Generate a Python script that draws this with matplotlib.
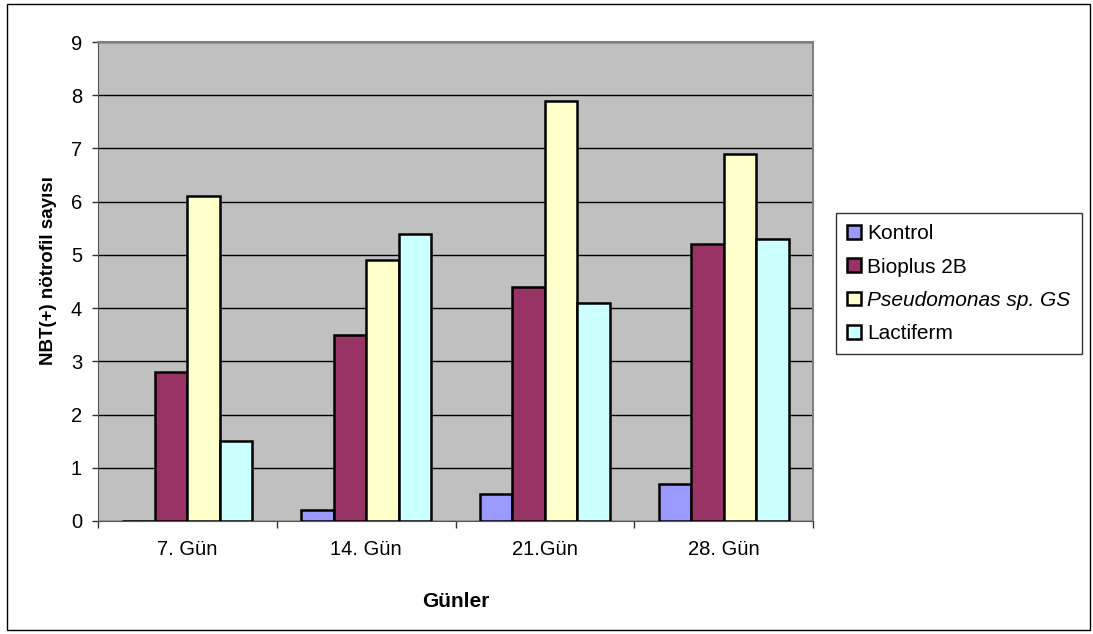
import numpy as np
import matplotlib
matplotlib.use("Agg")
import matplotlib.pyplot as plt
from matplotlib.patches import Rectangle

plt.rcParams['font.family'] = ['Liberation Sans', 'DejaVu Sans']

# data
days = ["7. Gün", "14. Gün", "21.Gün", "28. Gün"]
series_names = ["Kontrol", "Bioplus 2B", "Pseudomonas sp. GS", "Lactiferm"]
kontrol = [0.0, 0.2, 0.5, 0.7]
bioplus = [2.8, 3.5, 4.4, 5.2]
pseudomonas = [6.1, 4.9, 7.9, 6.9]
lactiferm = [1.5, 5.4, 4.1, 5.3]
colors = ["#9999FF", "#993366", "#FFFFCC", "#CCFFFF"]

W, H = 1093, 634
fig = plt.figure(figsize=(W / 100, H / 100), dpi=100)
ax = fig.add_axes([98 / W, 1 - 521 / H, (813 - 98) / W, (521 - 42) / H])
ax.set_facecolor("#C0C0C0")

x = np.arange(len(days))
gap = 1.5
bw = 1.0 / (4 + gap)
all_series = [kontrol, bioplus, pseudomonas, lactiferm]
handles = []
for i, (vals, c) in enumerate(zip(all_series, colors)):
    pos = x - 2 * bw + (i + 0.5) * bw
    b = ax.bar(pos, vals, width=bw, color=c, edgecolor="black",
               linewidth=1.8, zorder=3)
    handles.append(b)

ax.set_xlim(-0.5, len(days) - 0.5)
ax.set_ylim(0, 9)
ax.set_yticks(range(0, 10))
ax.yaxis.grid(True, color="black", linewidth=1.0, zorder=1)
ax.set_axisbelow(True)

# category ticks at the group boundaries, labels at centers
ax.set_xticks(np.arange(-0.5, len(days)), minor=False)
ax.set_xticklabels([])
ax.set_xticks(x, minor=True)
ax.set_xticklabels(days, minor=True)
ax.tick_params(axis="x", which="minor", length=0, pad=14, labelsize=14.5)
ax.tick_params(axis="x", which="major", length=5, color="#333333", width=1)
ax.tick_params(axis="y", length=4.5, color="#333333", width=1, labelsize=14.5, pad=7)

for side in ["top", "right"]:
    ax.spines[side].set_color("#808080")
    ax.spines[side].set_linewidth(1.5)
ax.spines["left"].set_color("#555555")
ax.spines["bottom"].set_color("#555555")

# axis titles
fig.text(53 / W, 1 - 271 / H, "NBT(+) nötrofil sayısı", rotation=90,
         rotation_mode="anchor", ha="center", va="baseline",
         fontsize=13.5, fontweight="bold")
fig.text(456 / W, 1 - 607 / H, "Günler", ha="center", va="baseline",
         fontsize=15, fontweight="bold")

leg = fig.legend(handles, series_names, loc="upper left",
                 bbox_to_anchor=(836 / W, 1 - 213 / H),
                 fontsize=15, frameon=True, fancybox=False,
                 edgecolor="black", handlelength=0.65, handleheight=0.65,
                 handletextpad=0.3, borderpad=0.55, borderaxespad=0,
                 labelspacing=0.68)
leg.get_frame().set_linewidth(1.0)
for patch in leg.get_patches():
    patch.set_linewidth(1.8)
leg.get_texts()[2].set_fontstyle("italic")
leg.set_zorder(5)

# outer frame around the whole chart
fig.patches.append(Rectangle((7 / W, 4 / H), (1090 - 7) / W, (630 - 4) / H,
                             transform=fig.transFigure, fill=False,
                             edgecolor="black", linewidth=1.0))

fig.savefig("out.png", dpi=100)
